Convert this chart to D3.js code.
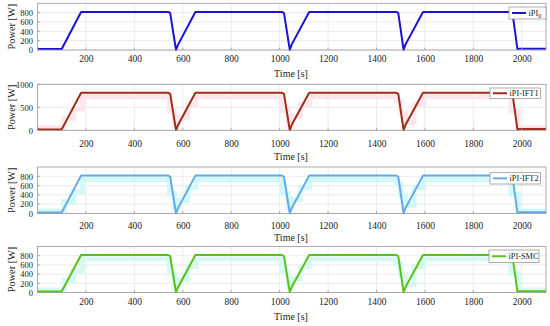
<!DOCTYPE html>
<html><head><meta charset="utf-8">
<script src="https://cdn.jsdelivr.net/npm/d3@7"></script>
<style>html,body{margin:0;padding:0;background:#fff;} svg{display:block;}</style>
</head><body>
<svg id="c" width="550" height="326"></svg>
<script>
// ---- data ----
const time   = [0, 8, 100, 180, 540, 548, 572, 580, 652, 1010, 1018, 1042, 1050, 1122, 1482, 1490, 1512, 1520, 1592, 1955, 1962, 1982, 1990, 2100];
const iPI0   = [30, 20, 20, 815, 815, 790, 0, 110, 815, 815, 790, 0, 120, 815, 815, 790, 0, 120, 815, 815, 780, 20, 28, 28];
const iPIIFT1= [30, 20, 20, 815, 815, 790, 0, 110, 815, 815, 790, 0, 120, 815, 815, 790, 0, 120, 815, 815, 780, 20, 28, 28];
const iPIIFT2= [30, 20, 20, 815, 815, 790, 0, 110, 815, 815, 790, 0, 120, 815, 815, 790, 0, 120, 815, 815, 780, 20, 28, 28];
const iPISMC = [30, 20, 20, 815, 815, 790, 0, 110, 815, 815, 790, 0, 120, 815, 815, 790, 0, 120, 815, 815, 780, 20, 28, 28];
// light background trace (stepped), read from the shaded blocks
const bandTime  = [0, 110, 150, 185, 545, 565, 580, 620, 655, 1010, 1035, 1050, 1085, 1125, 1480, 1500, 1520, 1555, 1595, 1955, 1985, 2100];
const bandValue = [55, 260, 470, 730, 430, 140, 280, 560, 730, 430, 130, 300, 560, 730, 640, 380, 170, 560, 730, 420, 55, 55];
const xTicks = [200, 400, 600, 800, 1000, 1200, 1400, 1600, 1800, 2000];
const yTicksA = [0, 200, 400, 600, 800];
const yTicksB = [0, 500, 1000];
const legendNames = ["iPI", "iPI-IFT1", "iPI-IFT2", "iPI-SMC"];

const series = [iPI0, iPIIFT1, iPIIFT2, iPISMC];
const panels = [
  {top:3.3, bottom:50, ticks:yTicksA, color:"#1c12d6", band:null, lab:10, tb:26.5, leg:{x:509, y:7, w:37, h:12}},
  {top:84.3, bottom:130.3, ticks:yTicksB, color:"#9e2c16", band:"#ffe6ee", lab:14.7, tb:30, leg:{x:490, y:88, w:50.5, h:10.5}},
  {top:167, bottom:213.5, ticks:yTicksA, color:"#62aaea", band:"#d2f9f9", lab:13, tb:27.2, leg:{x:490, y:172.7, w:50.5, h:11.3}},
  {top:246.5, bottom:292.5, ticks:yTicksA, color:"#55c318", band:"#d8f9f2", lab:10.8, tb:27.7, leg:{x:489, y:250, w:50, h:12.5}}
];
const left = 37.5, right = 546;
const svg = d3.select("#c");
const font = "Liberation Serif, DejaVu Serif, serif";
const fmt = d3.format("d");

const x = d3.scaleLinear().domain([0, 2100]).range([left, right]);

panels.forEach((p, i) => {
  const y = d3.scaleLinear().domain([0, 1000]).range([p.bottom, p.top]);
  const g = svg.append("g");
  const cid = "clip" + i;
  svg.append("clipPath").attr("id", cid).append("rect")
    .attr("x", left).attr("y", p.top - 2).attr("width", right - left).attr("height", p.bottom - p.top + 3);
  // grid
  g.selectAll(".gx").data(xTicks).join("line")
    .attr("x1", d => x(d)).attr("x2", d => x(d)).attr("y1", p.top).attr("y2", p.bottom)
    .attr("stroke", "#e6e6e6").attr("stroke-width", 0.8);
  g.selectAll(".gy").data(p.ticks).join("line")
    .attr("x1", left).attr("x2", right).attr("y1", d => y(d)).attr("y2", d => y(d))
    .attr("stroke", "#e6e6e6").attr("stroke-width", 0.8);
  // band
  if (p.band) {
    const bl = d3.line().x((d, k) => x(bandTime[k])).y(d => y(d)).curve(d3.curveStepAfter);
    g.append("path").attr("d", bl(bandValue)).attr("fill", "none")
      .attr("stroke", p.band).attr("stroke-width", 5).attr("clip-path", `url(#${cid})`);
  }
  // line
  const ln = d3.line().x((d, k) => x(time[k])).y(d => y(d));
  g.append("path").attr("d", ln(series[i])).attr("fill", "none")
    .attr("stroke", p.color).attr("stroke-width", 2).attr("stroke-linejoin", "round")
    .attr("clip-path", `url(#${cid})`);
  // box
  g.append("rect").attr("x", left).attr("y", p.top).attr("width", right - left).attr("height", p.bottom - p.top)
    .attr("fill", "none").attr("stroke", "#9a9a9a").attr("stroke-width", 0.8);
  // axes
  const ax = d3.axisBottom(x).tickValues(xTicks).tickFormat(fmt).tickSize(0).tickPadding(0);
  const axg = g.append("g").attr("transform", `translate(0,${p.bottom})`).call(ax);
  axg.select(".domain").remove();
  axg.selectAll("text").attr("dy", 0).attr("y", p.lab).attr("font-family", font)
    .attr("font-size", 9.5).attr("fill", "#222").attr("dominant-baseline", "middle");
  const ay = d3.axisLeft(y).tickValues(p.ticks).tickFormat(fmt).tickSize(0).tickPadding(4.5);
  const ayg = g.append("g").attr("transform", `translate(${left},0)`).call(ay);
  ayg.select(".domain").remove();
  ayg.selectAll("text").attr("font-family", font).attr("font-size", 8.5).attr("fill", "#222");
  // inner tick marks
  g.selectAll(".tx").data(xTicks).join("line")
    .attr("x1", d => x(d)).attr("x2", d => x(d)).attr("y1", p.bottom).attr("y2", p.bottom - 2.5)
    .attr("stroke", "#9a9a9a").attr("stroke-width", 0.8);
  g.selectAll(".ty").data(p.ticks).join("line")
    .attr("x1", left).attr("x2", left + 2.5).attr("y1", d => y(d)).attr("y2", d => y(d))
    .attr("stroke", "#9a9a9a").attr("stroke-width", 0.8);
  // labels
  g.append("text").attr("x", 291).attr("y", p.bottom + p.tb)
    .attr("text-anchor", "middle").attr("font-family", font).attr("font-size", 10).attr("fill", "#222")
    .text("Time [s]");
  g.append("text").attr("transform", `translate(14.5,${(p.top + p.bottom) / 2}) rotate(-90)`)
    .attr("text-anchor", "middle").attr("font-family", font).attr("font-size", 10.3).attr("fill", "#222")
    .text("Power [W]");
  // legend
  const L = p.leg;
  g.append("rect").attr("x", L.x).attr("y", L.y).attr("width", L.w).attr("height", L.h)
    .attr("fill", "#fff").attr("stroke", "#8a8a8a").attr("stroke-width", 0.7);
  g.append("line").attr("x1", L.x + 3).attr("x2", L.x + 17).attr("y1", L.y + L.h / 2).attr("y2", L.y + L.h / 2)
    .attr("stroke", p.color).attr("stroke-width", 2);
  const t = g.append("text").attr("x", L.x + 19.5).attr("y", L.y + L.h / 2 + 2.8)
    .attr("font-family", font).attr("font-size", 8.3).attr("fill", "#222").text(legendNames[i]);
  if (i === 0) t.append("tspan").attr("font-size", 6).attr("dy", 2.5).text("0");
});
</script>
</body></html>
